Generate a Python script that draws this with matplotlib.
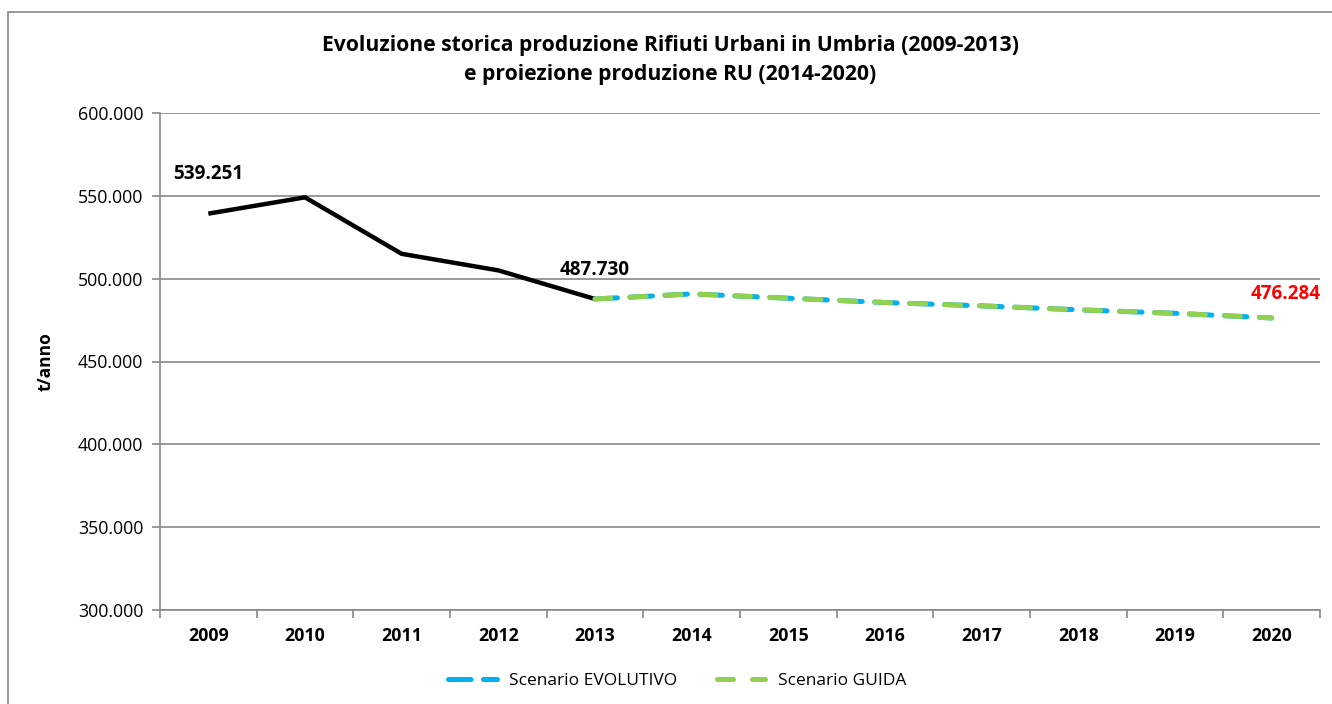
import matplotlib
matplotlib.use("Agg")
import matplotlib.pyplot as plt
from matplotlib.patches import Rectangle
from matplotlib.ticker import FuncFormatter, FixedLocator

plt.rcParams['font.family'] = ['Open Sans', 'DejaVu Sans']

years = ['2009', '2010', '2011', '2012', '2013', '2014', '2015', '2016',
         '2017', '2018', '2019', '2020']
storico = [539251, 549100, 515000, 505000, 487730]
proj_years = ['2013', '2014', '2015', '2016', '2017', '2018', '2019', '2020']
evolutivo = [487730, 490800, 488200, 485600, 483600, 481200, 479100, 476284]
guida = [487730, 490800, 488200, 485600, 483600, 481200, 479100, 476284]

title = "Evoluzione storica produzione Rifiuti Urbani in Umbria (2009-2013)\ne proiezione produzione RU (2014-2020)"

fig = plt.figure(figsize=(13.32, 7.04), dpi=100)
fig.patches.append(Rectangle((8/1332, -0.01), 1.0, 1 - 12/704 + 0.01,
                             transform=fig.transFigure, fill=False,
                             edgecolor='#888888', linewidth=1.2))
ax = fig.add_axes([160/1332, 1 - 610/704, (1320 - 160)/1332, (610 - 113)/704])

xi = {y: i for i, y in enumerate(years)}
ax.plot([xi[y] for y in years[:5]], storico, color='black', lw=3.2,
        solid_capstyle='butt', zorder=3)
px = [xi[y] for y in proj_years]
ax.plot(px, evolutivo, color='#00B0F0', lw=3.6, dashes=(4.5, 2.5),
        dash_capstyle='round', label='Scenario EVOLUTIVO', zorder=3)
ax.plot(px, guida, color='#92D050', lw=3.6, dashes=(3.2, 3.8),
        dash_capstyle='round', label='Scenario GUIDA', zorder=4)

ax.set_xlim(-0.5, len(years) - 0.5)
ax.set_ylim(300000, 600000)
ax.yaxis.set_major_locator(FixedLocator(range(300000, 600001, 50000)))
ax.yaxis.set_major_formatter(FuncFormatter(lambda v, p: f"{int(v):,}".replace(',', '.')))
ax.set_xticks(range(len(years)))
ax.set_xticklabels(years, fontweight='bold', fontsize=12.8)
ax.set_xticks([i - 0.5 for i in range(len(years) + 1)], minor=True)
ax.tick_params(axis='x', which='major', length=0, pad=12)
ax.tick_params(axis='x', which='minor', length=6, color='#888888', width=1.2)
ax.tick_params(axis='y', length=6, color='#888888', width=1.2, labelsize=12.8, pad=6)
ax.grid(axis='y', color='#888888', lw=1.2)
ax.set_axisbelow(True)
for s in ['top', 'right']:
    ax.spines[s].set_visible(False)
for s in ['left', 'bottom']:
    ax.spines[s].set_color('#888888')
    ax.spines[s].set_linewidth(1.2)

fig.text(46/1332, 1 - 362/704, 't/anno', rotation=90, ha='center', va='center',
         fontweight='bold', fontsize=12.5)

ax.annotate(f"{storico[0]:,}".replace(',', '.'), (0, storico[0]), xytext=(0, 21),
            textcoords='offset points', ha='center', va='bottom',
            fontweight='bold', fontsize=13.6)
ax.annotate(f"{storico[4]:,}".replace(',', '.'), (4, storico[4]), xytext=(0, 14),
            textcoords='offset points', ha='center', va='bottom',
            fontweight='bold', fontsize=13.6)
ax.annotate(f"{guida[-1]:,}".replace(',', '.'), (11, guida[-1]), xytext=(10, 10),
            textcoords='offset points', ha='center', va='bottom',
            fontweight='bold', fontsize=13.6, color='#FF0000')

fig.text(0.5 + 4/1332, 1 - 60/704, title, ha='center', va='center',
         fontweight='bold', fontsize=15.2, linespacing=1.5)

fig.legend(loc='center', bbox_to_anchor=(0.5 + 11/1332, 1 - 681/704), ncol=2,
           frameon=False, fontsize=12.5, handlelength=2.8, handletextpad=0.7,
           columnspacing=2.3)

fig.savefig('out.png', dpi=100)
